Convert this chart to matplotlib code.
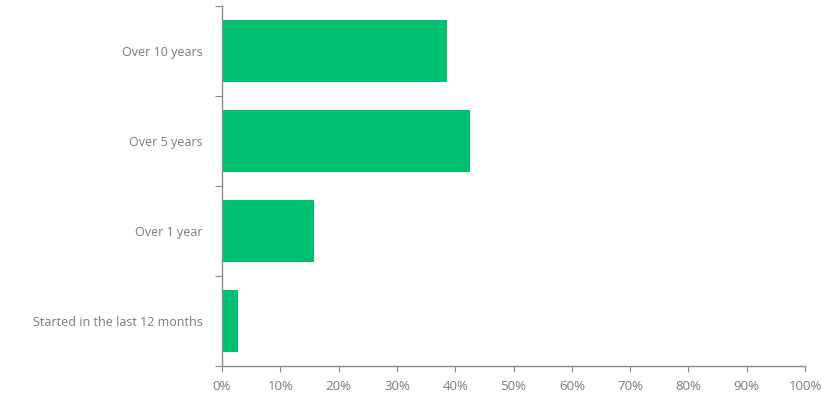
import matplotlib
matplotlib.use("Agg")
import matplotlib.pyplot as plt
from matplotlib.ticker import FixedLocator, PercentFormatter

categories = ["Started in the last 12 months", "Over 1 year", "Over 5 years", "Over 10 years"]
values = [2.7, 15.8, 42.6, 38.6]
xticks = list(range(0, 101, 10))

plt.rcParams['font.family'] = ['Open Sans', 'DejaVu Sans']

fig = plt.figure(figsize=(8.3, 4.04), dpi=100)
ax = fig.add_axes([222/830, 38/404, 583/830, 360/404])

pos = list(range(len(categories)))
ax.barh(pos, values, height=0.68, color="#00BF6F")

ax.set_xlim(0, 100)
ax.set_ylim(-0.5, len(categories) - 0.5)

axcol = "#8c8c8c"
txtcol = "#7a7a7a"
for s in ["top", "right"]:
    ax.spines[s].set_visible(False)
for s in ["left", "bottom"]:
    ax.spines[s].set_color(axcol)
    ax.spines[s].set_linewidth(1.0)

ax.set_xticks(xticks)
ax.xaxis.set_major_formatter(PercentFormatter(decimals=0))
ax.tick_params(axis="x", colors=axcol, labelcolor=txtcol, labelsize=9.5, length=4, pad=6)

ax.yaxis.set_major_locator(FixedLocator([p - 0.5 for p in pos] + [len(categories) - 0.5]))
ax.yaxis.set_minor_locator(FixedLocator(pos))
ax.set_yticklabels([], minor=False)
ax.set_yticklabels(categories, minor=True)
ax.tick_params(axis="y", which="major", colors=axcol, length=5)
ax.tick_params(axis="y", which="minor", length=0, labelcolor=txtcol, labelsize=9, pad=14)

fig.savefig("out.png", dpi=100)
